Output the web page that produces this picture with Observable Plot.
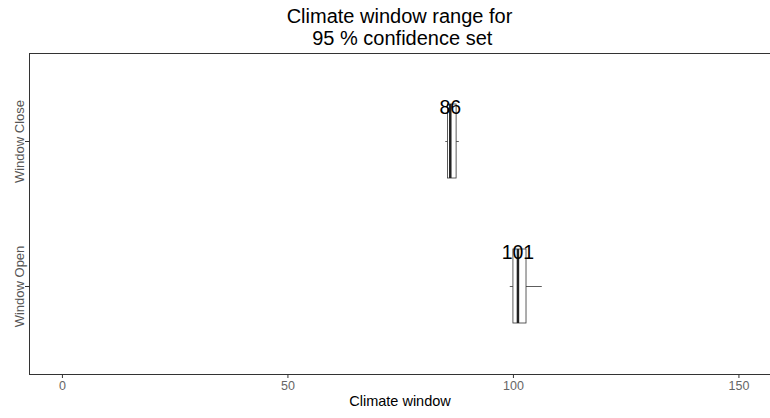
<!DOCTYPE html>
<html>
<head>
<meta charset="utf-8">
<script src="https://cdn.jsdelivr.net/npm/d3@7"></script>
<script src="https://cdn.jsdelivr.net/npm/@observablehq/plot@0.6"></script>
<style>
  html, body { margin: 0; padding: 0; background: #fff; }
  body { width: 770px; height: 418px; overflow: hidden; font-family: "Liberation Sans", Arial, sans-serif; }
  #title { box-sizing: border-box; height: 52px; padding-top: 5px; padding-left: 29px; text-align: center; font-size: 20px; line-height: 22px; color: #000; white-space: pre; }
  #chart svg { display: block; }
</style>
</head>
<body>
<div id="title">Climate window range for
 95 % confidence set</div>
<div id="chart"></div>
<script>
const windows = ["Window Close", "Window Open"];
const whiskerLow = [85, 99.3];
const boxLow = [85.5, 100];
const medians = [86, 101];
const boxHigh = [87.4, 102.9];
const whiskerHigh = [88, 106.4];
const xTicks = [0, 50, 100, 150];

const data = windows.map((w, i) => ({
  window: w,
  lo: whiskerLow[i], q1: boxLow[i], med: medians[i], q3: boxHigh[i], hi: whiskerHigh[i]
}));

const chart = Plot.plot({
  width: 770,
  height: 366,
  marginTop: 1,
  marginLeft: 29,
  marginRight: 0,
  marginBottom: 44,
  style: { fontFamily: "Liberation Sans, Arial, sans-serif", background: "#fff" },
  x: { domain: [-7.3, 157], axis: null },
  y: { type: "band", domain: windows, paddingInner: 0.493, paddingOuter: 0.3465, axis: null },
  marks: [
    Plot.frame({ stroke: "#333", strokeWidth: 1 }),
    Plot.axisX({ ticks: xTicks, tickSize: 4, tickPadding: 3, fontSize: 12.5, color: "#666", stroke: "#333", label: null }),
    Plot.axisY({ tickSize: 4, tickPadding: 2, tickRotate: -90, fontSize: 13, color: "#555", stroke: "#333", label: null, textAnchor: "middle", lineAnchor: "bottom" }),
    Plot.text(["Climate window"], { frameAnchor: "bottom", dy: 31, fontSize: 14.5, fill: "#000" }),
    Plot.ruleY(data, { y: "window", x1: "lo", x2: "q1", stroke: "#333", strokeWidth: 0.8 }),
    Plot.ruleY(data, { y: "window", x1: "q3", x2: "hi", stroke: "#333", strokeWidth: 0.8 }),
    Plot.barX(data, { y: "window", x1: "q1", x2: "q3", fill: "#fff", stroke: "#333", strokeWidth: 0.8 }),
    Plot.tickX(data, { y: "window", x: "med", stroke: "#222", strokeWidth: 2.5 }),
    Plot.text(data, { y: "window", x: "med", text: d => String(d.med), dy: -34, fontSize: 19.5, fill: "#000" })
  ]
});
document.getElementById("chart").appendChild(chart);
</script>
</body>
</html>
